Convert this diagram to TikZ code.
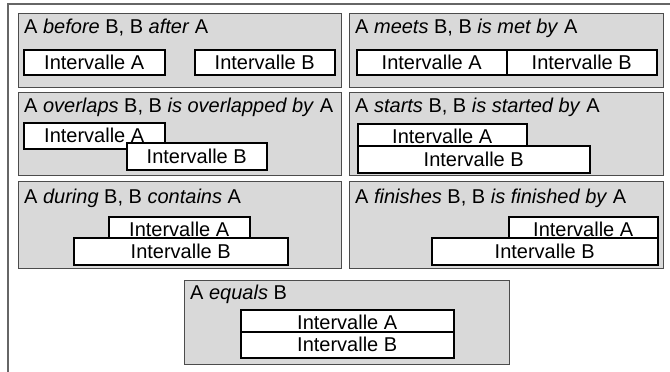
\documentclass[tikz,border=0pt]{standalone}
\usepackage{fontspec}
\setmainfont{Liberation Sans}
\usetikzlibrary{positioning}

\tikzset{
  cadre/.style={draw=black!60, line width=1.5pt},
  panneau/.style={draw=black!70, fill=black!15, line width=0.8pt},
  titre/.style={anchor=base west, inner sep=0pt},
  intervalle/.style={draw=black, fill=white, line width=1.5pt, inner sep=0pt, anchor=north west},
}

\begin{document}
\begin{tikzpicture}[x=1pt, y=-1pt, font=\fontsize{20}{22}\selectfont]
		\useasboundingbox (0,0) rectangle (670,372);
		\draw[cadre] (8,372) -- (8,4) -- (670,4);
		% before
		\draw[panneau] (18,13) rectangle (341,87);
		\node[titre] (t1) at (24,34) {A \textit{before} B, B \textit{after} A};
		\node[intervalle, minimum width=141, minimum height=25] (a1) at (23,49) {Intervalle A};
		\node[intervalle, minimum width=140, minimum height=25] (b1) at (194,49) {Intervalle B};
		% meets
		\draw[panneau] (349,13) rectangle (663,87);
		\node[titre] (t2) at (355,34) {A \textit{meets} B, B \textit{is met by} A};
		\node[intervalle, minimum width=150, minimum height=25] (a2) at (356,49) {Intervalle A};
		\node[intervalle, minimum width=150, minimum height=25] (b2) at (506,49) {Intervalle B};
		% overlaps
		\draw[panneau] (18,92) rectangle (341,175);
		\node[titre] (t3) at (24,112) {A \textit{overlaps} B, B \textit{is overlapped by} A};
		\node[intervalle, minimum width=141, minimum height=26] (a3) at (23,122) {Intervalle A};
		\node[intervalle, minimum width=140, minimum height=27] (b3) at (126,142) {Intervalle B};
		% starts
		\draw[panneau] (349,92) rectangle (663,175);
		\node[titre] (t4) at (355,112) {A \textit{starts} B, B \textit{is started by} A};
		\node[intervalle, minimum width=169, minimum height=26] (a4) at (357,123) {Intervalle A};
		\node[intervalle, minimum width=232, minimum height=27] (b4) at (357,145) {Intervalle B};
		% during
		\draw[panneau] (18,181) rectangle (341,268);
		\node[titre] (t5) at (24,203) {A \textit{during} B, B \textit{contains} A};
		\node[intervalle, minimum width=141, minimum height=26] (a5) at (108,216) {Intervalle A};
		\node[intervalle, minimum width=214, minimum height=27] (b5) at (73,237) {Intervalle B};
		% finishes
		\draw[panneau] (349,181) rectangle (663,268);
		\node[titre] (t6) at (355,203) {A \textit{finishes} B, B \textit{is finished by} A};
		\node[intervalle, minimum width=149, minimum height=26] (a6) at (508,216) {Intervalle A};
		\node[intervalle, minimum width=226, minimum height=27] (b6) at (431,237) {Intervalle B};
		% equals
		\draw[panneau] (184,280) rectangle (509,364);
		\node[titre] (t7) at (190,299) {A \textit{equals} B};
		\node[intervalle, minimum width=213, minimum height=26] (a7) at (240,309) {Intervalle A};
		\node[intervalle, minimum width=213, minimum height=26] (b7) at (240,331) {Intervalle B};
	\end{tikzpicture}
\end{document}
